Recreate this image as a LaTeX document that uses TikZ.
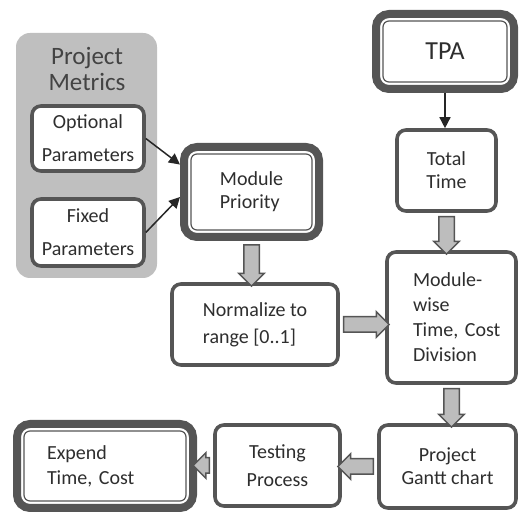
\documentclass[tikz,border=0pt]{standalone}
\usepackage{fontspec}
\setmainfont{Carlito}
\usetikzlibrary{arrows.meta,shapes.arrows,calc}
\definecolor{framegray}{HTML}{555555}
\definecolor{panelgray}{HTML}{BFBFBF}
\definecolor{arrowgray}{HTML}{BDBDBD}
\definecolor{textgray}{HTML}{2E2E2E}
\tikzset{
  box/.style={draw=framegray, line width=3.6pt, rounded corners=9pt, fill=white,
    align=center, inner sep=0pt, text=textgray, font=\fontsize{20}{25}\selectfont},
  parambox/.style={box, font=\fontsize{20}{33}\selectfont},
  framebox/.style={box, line width=8pt, rounded corners=13pt},
  innerline/.style={draw=framegray, line width=1.2pt, rounded corners=6pt},
  panel/.style={fill=panelgray, rounded corners=14pt, minimum width=141pt, minimum height=245pt},
  paneltitle/.style={align=center, text=textgray!90, font=\fontsize{25}{26}\selectfont},
  flowarrow/.style={single arrow, draw=framegray, fill=arrowgray, line width=1.5pt,
    inner xsep=0pt, inner ysep=7pt, single arrow head extend=5pt,
    single arrow tip angle=90, sloped, allow upside down},
  thinarrow/.style={-{Triangle[length=11pt,width=11pt]}, line width=1.5pt, black!85}
}
% thin frame inside the heavy outer frame
\newcommand\innerframe[1]{\draw[innerline] ([shift={(11pt,-11pt)}]#1.north west) rectangle ([shift={(-11pt,11pt)}]#1.south east);}
% block arrow between two points
\newcommand\flowto[2]{\path let \p1=(#1), \p2=(#2), \n1={veclen(\x2-\x1,\y2-\y1)} in (\p1) -- (\p2) node[flowarrow, midway, minimum height=\n1] {};}
\begin{document}
\begin{tikzpicture}[x=1pt,y=1pt]
\useasboundingbox (0,0) rectangle (520,514);

% project metrics group
\node[panel] (metrics) at (86.5,358.5) {};
\node[paneltitle] (mtitle) at (87,445) {Project\\Metrics};
\node[parambox, minimum width=112pt, minimum height=65pt] (opt) at (88,375.5) {Optional\\Parameters};
\node[parambox, minimum width=112pt, minimum height=67pt] (fix) at (88,281.5) {Fixed\\Parameters};

\node[framebox, minimum width=135pt, minimum height=90pt, align=left, font=\fontsize{20}{23}\selectfont] (prio) at (251.5,322) {Module\\Priority};
\innerframe{prio}
\node[framebox, minimum width=138pt, minimum height=75pt, font=\fontsize{26}{30}\selectfont] (tpa) at (445,462.5) {TPA};
\innerframe{tpa}
\node[box, minimum width=99pt, minimum height=81pt, font=\fontsize{20}{23}\selectfont] (total) at (446.5,343.5) {Total\\Time};
\node[box, minimum width=129pt, minimum height=131pt, align=left, text width=77pt] (mod) at (451.5,196.5) {Module-\\wise\\Time,~Cost\\Division};
\node[box, minimum width=166pt, minimum height=81pt, align=left, font=\fontsize{20}{27}\selectfont] (norm) at (255,189.5) {Normalize to\\range [0..1]};
\node[box, minimum width=137pt, minimum height=83pt, font=\fontsize{20}{23}\selectfont] (gantt) at (447.5,47.5) {Project\\Gantt chart};
\node[box, minimum width=125pt, minimum height=81pt, font=\fontsize{20}{28}\selectfont] (test) at (277.5,48.5) {Testing\\Process};
\node[framebox, minimum width=176pt, minimum height=84pt, align=left, text width=116pt] (exp) at (105,48) {Expend\\Time,~Cost};
\innerframe{exp}

\draw[thinarrow] (opt.east) -- (prio.159);
\draw[thinarrow] (fix.east) -- (prio.184);
\draw[thinarrow] (tpa.south) -- (tpa.south |- total.north);

\flowto{prio.south}{prio.south |- norm.north}
\flowto{total.south}{total.south |- mod.north}
\flowto{norm.east}{norm.east -| mod.west}
\flowto{mod.south}{mod.south |- gantt.north}
\flowto{gantt.west}{gantt.west -| test.east}
\flowto{test.west}{test.west -| exp.east}
\end{tikzpicture}
\end{document}
